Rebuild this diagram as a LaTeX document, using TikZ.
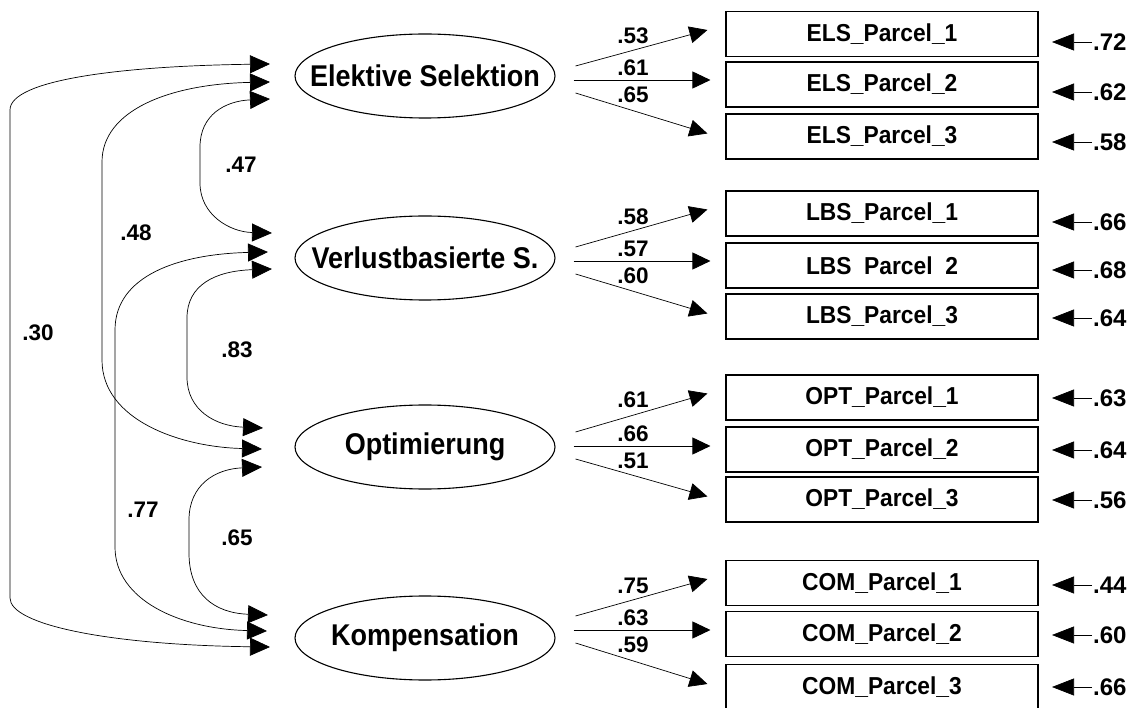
\documentclass[tikz,border=0pt]{standalone}
\usepackage{fontspec}
\usepackage{graphicx}
\setmainfont{Liberation Sans}
\newfontfamily\latfont[FakeStretch=0.9]{Liberation Sans}
\newfontfamily\boxfont[FakeStretch=0.93]{Liberation Sans}
\usetikzlibrary{arrows.meta,shapes.geometric,calc}
\begin{document}
\begin{tikzpicture}[x=1pt,y=-1pt,
  latent/.style={ellipse, draw, line width=1.1pt, minimum width=260pt, minimum height=84pt, inner xsep=-40pt, inner ysep=0pt, font=\latfont\fontsize{30}{32}\selectfont\bfseries},
  obs/.style={rectangle, draw, line width=1.1pt, minimum width=312pt, minimum height=45pt, inner sep=0pt, font=\boxfont\fontsize{24.5}{27}\selectfont\bfseries},
  num/.style={inner sep=0pt, font=\fontsize{22.5}{24}\selectfont\bfseries},
  errnum/.style={inner sep=0pt, anchor=west, font=\fontsize{24}{26}\selectfont\bfseries},
  loadarrow/.style={line width=0.7pt, -{Triangle[length=18pt,width=17pt]}},
  cov/.style={line width=0.7pt, {Triangle[length=20pt,width=18pt]}-{Triangle[length=20pt,width=18pt]}},
  errarrow/.style={line width=0.7pt, -{Triangle[length=22pt,width=17pt]}}
]
\useasboundingbox (0,0) rectangle (1141,708);

% latent variables
\node[latent] (els) at (425,76)  {Elektive Selektion};
\node[latent] (lbs) at (425,258) {Verlustbasierte S.};
\node[latent] (opt) at (425,447) {Optimierung};
\node[latent] (com) at (425,638) {Kompensation};

% indicators
\node[obs] (els1) at (882,34)    {ELS\_Parcel\_1};
\node[obs] (els2) at (882,84.5)  {ELS\_Parcel\_2};
\node[obs] (els3) at (882,136.5) {ELS\_Parcel\_3};
\node[obs] (lbs1) at (882,213.5) {LBS\_Parcel\_1};
\node[obs] (lbs2) at (882,265.5) {LBS\ \ Parcel\ \ 2};
\node[obs] (lbs3) at (882,316.5) {LBS\_Parcel\_3};
\node[obs] (opt1) at (882,397.5) {OPT\_Parcel\_1};
\node[obs] (opt2) at (882,449.5) {OPT\_Parcel\_2};
\node[obs] (opt3) at (882,499.5) {OPT\_Parcel\_3};
\node[obs] (com1) at (882,583)   {COM\_Parcel\_1};
\node[obs] (com2) at (882,634)   {COM\_Parcel\_2};
\node[obs] (com3) at (882,687)   {COM\_Parcel\_3};

% loadings
\draw[loadarrow] ($(els.east)+(20,-10)$) -- ($(els1.west)+(-18,-4)$);
\draw[loadarrow] ($(els.east)+(18,4)$)   -- ($(els2.west)+(-15,-4.5)$);
\draw[loadarrow] ($(els.east)+(20,17)$)  -- ($(els3.west)+(-18,-3)$);
\draw[loadarrow] ($(lbs.east)+(20,-11)$) -- ($(lbs1.west)+(-18,-4)$);
\draw[loadarrow] ($(lbs.east)+(18,3)$)   -- ($(lbs2.west)+(-15,-4.5)$);
\draw[loadarrow] ($(lbs.east)+(20,16)$)  -- ($(lbs3.west)+(-18,-3)$);
\draw[loadarrow] ($(opt.east)+(20,-15)$) -- ($(opt1.west)+(-18,-4)$);
\draw[loadarrow] ($(opt.east)+(18,-1)$)  -- ($(opt2.west)+(-15,-3.5)$);
\draw[loadarrow] ($(opt.east)+(20,12)$)  -- ($(opt3.west)+(-18,-3)$);
\draw[loadarrow] ($(com.east)+(20,-22)$) -- ($(com1.west)+(-18,-4)$);
\draw[loadarrow] ($(com.east)+(18,-8)$)  -- ($(com2.west)+(-15,-4)$);
\draw[loadarrow] ($(com.east)+(20,5)$)   -- ($(com3.west)+(-18,-3)$);

\node[num] (l11) at (633,36)  {.53};
\node[num] (l12) at (633,68)  {.61};
\node[num] (l13) at (633,95)  {.65};
\node[num] (l21) at (633,217) {.58};
\node[num] (l22) at (633,249) {.57};
\node[num] (l23) at (633,276) {.60};
\node[num] (l31) at (633,400) {.61};
\node[num] (l32) at (633,434) {.66};
\node[num] (l33) at (633,461) {.51};
\node[num] (l41) at (633,586) {.75};
\node[num] (l42) at (633,618) {.63};
\node[num] (l43) at (633,645) {.59};

% error terms
\foreach \n/\y/\v in {e11/42/.72, e12/92/.62, e13/142/.58,
                      e21/222/.66, e22/270/.68, e23/318/.64,
                      e31/398/.63, e32/450/.64, e33/500/.56,
                      e41/585/.44, e42/635/.60, e43/687/.66}{
  \node[errnum] (\n) at (1093,\y) {\v};
  \draw[errarrow] ([xshift=-1pt]\n.west) -- ++(-40,0);
}

% covariance end points
\coordinate (a1) at (270,64);
\coordinate (a2) at (270,82);
\coordinate (a3) at (270,99);
\coordinate (b1) at (272,233);
\coordinate (b2) at (268,252);
\coordinate (b3) at (272,269);
\coordinate (c1) at (263,428);
\coordinate (c2) at (262,449);
\coordinate (c3) at (262,467);
\coordinate (d1) at (268,615);
\coordinate (d2) at (267,631);
\coordinate (d3) at (270,647);

% covariances
\draw[cov] (a1) .. controls (120,66) and (10,80) .. (10,110) -- (10,598)
           .. controls (10,625) and (110,645) .. (d3);
\draw[cov] (a2) .. controls (170,84) and (102,110) .. (102,162) -- (102,360)
           .. controls (102,420) and (180,447) .. (c2);
\draw[cov] (b2) .. controls (180,254) and (115,275) .. (115,330) -- (115,547)
           .. controls (115,600) and (180,629) .. (d2);
\draw[cov] (a3) .. controls (225,101) and (200,115) .. (200,147) -- (200,183)
           .. controls (200,215) and (230,232) .. (b1);
\draw[cov] (b3) .. controls (215,271) and (187,285) .. (187,318) -- (187,377)
           .. controls (187,410) and (215,426) .. (c1);
\draw[cov] (c3) .. controls (215,469) and (189,485) .. (189,520) -- (189,553)
           .. controls (189,595) and (215,613) .. (d1);

\node[num] (k47) at (241,165) {.47};
\node[num] (k48) at (136,233) {.48};
\node[num] (k30) at (38,333)  {.30};
\node[num] (k83) at (237,350) {.83};
\node[num] (k77) at (143,510) {.77};
\node[num] (k65) at (237,538) {.65};
\end{tikzpicture}
\end{document}
